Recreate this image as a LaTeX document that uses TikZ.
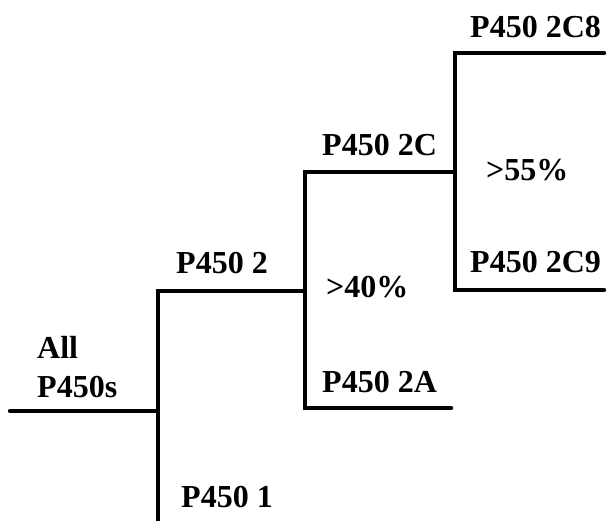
\documentclass[tikz,border=0pt]{standalone}
\usepackage{fontspec}
\setmainfont{Liberation Serif}
\begin{document}
\begin{tikzpicture}[x=1pt,y=-1pt,
  branch/.style={line width=4.4pt,line cap=round,line join=miter},
  lbl/.style={anchor=base west,inner sep=0pt,font=\fontsize{32}{39}\selectfont\bfseries}]
\useasboundingbox (0,0) rectangle (607,520);
% junction points of the tree
\coordinate (root) at (10,411);
\coordinate (j1) at (158,411);
\coordinate (j1top) at (158,291);
\coordinate (j1bot) at (158,524);
\coordinate (j2) at (305,291);
\coordinate (j2top) at (305,172);
\coordinate (j2bot) at (305,408);
\coordinate (e2c) at (455,172);
\coordinate (e2a) at (451,408);
\coordinate (j3top) at (455,53);
\coordinate (j3bot) at (455,290);
\coordinate (e2c8) at (604,53);
\coordinate (e2c9) at (604,290);
% branches
\draw[branch] (root) -- (j1);
\draw[branch] (j1bot) -- (j1top) -- (j2);
\draw[branch] (e2c) -- (j2top) -- (j2bot) -- (e2a);
\draw[branch] (e2c8) -- (j3top) -- (j3bot) -- (e2c9);
% labels
\node[lbl] (l2c8) at (470,37) {P450 2C8};
\node[lbl] (l2c) at (322,155) {P450 2C};
\node[lbl] (p55) at (486,180) {>55\%};
\node[lbl] (l2c9) at (470,272) {P450 2C9};
\node[lbl] (l2) at (176,273) {P450 2};
\node[lbl] (p40) at (326,297) {>40\%};
\node[lbl] (lall) at (37,358) {All};
\node[lbl] (lp450s) at (37,397) {P450s};
\node[lbl] (l2a) at (322,392) {P450 2A};
\node[lbl] (l1) at (181,507) {P450 1};
\end{tikzpicture}
\end{document}
